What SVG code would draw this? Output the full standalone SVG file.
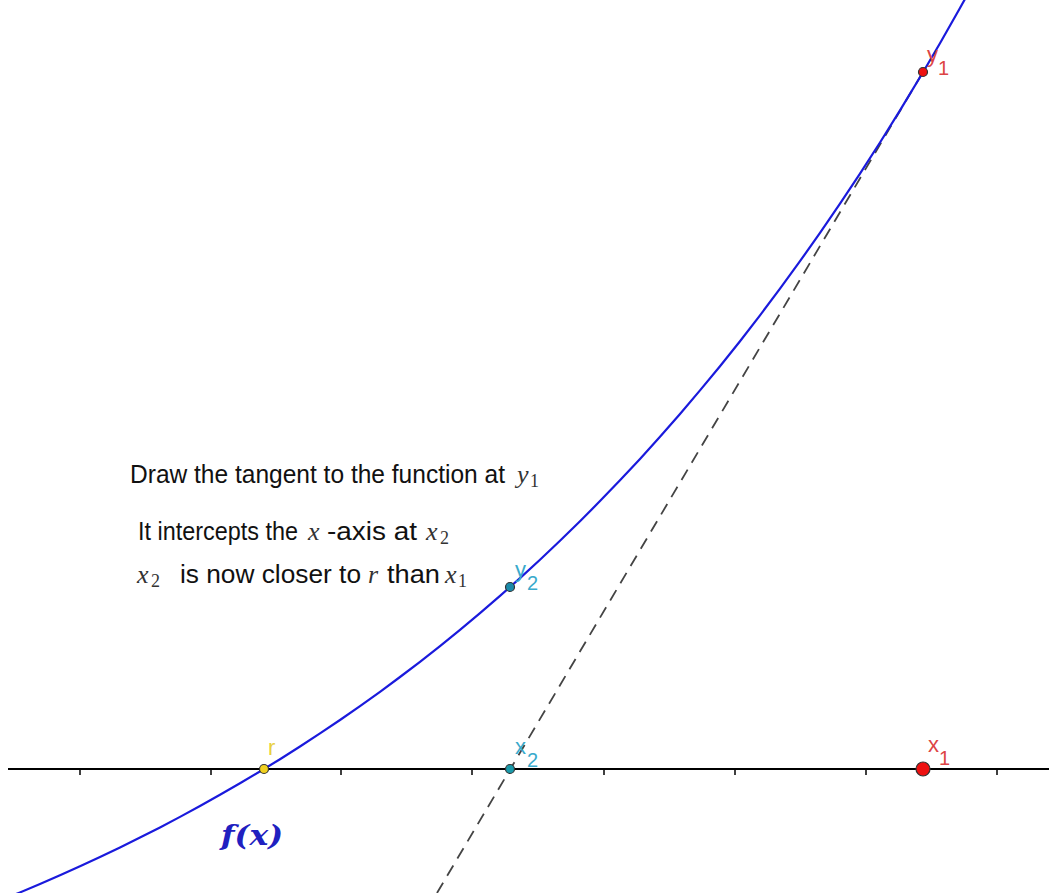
<svg xmlns="http://www.w3.org/2000/svg" width="1049" height="893" viewBox="0 0 1049 893">
<style>
.txt{font-family:"Liberation Sans",Arial,sans-serif;font-size:25px;fill:#111}
.math{font-family:"Liberation Serif","DejaVu Serif",serif;font-style:italic;font-size:26px;fill:#333}
.sub{font-family:"Liberation Serif","DejaVu Serif",serif;font-size:18px;fill:#333}
.lbl{font-family:"Liberation Sans",Arial,sans-serif;font-size:22px}
.lsub{font-family:"Liberation Sans",Arial,sans-serif;font-size:20px}
.tick{stroke:#000;stroke-width:1.5}
</style>
<rect width="1049" height="893" fill="#fff"/>
<g id="axis">
<line x1="8" y1="769" x2="1049" y2="769" stroke="#000" stroke-width="1.8"/>
<g class="tick">
<line x1="80" y1="769" x2="80" y2="775"/>
<line x1="211" y1="769" x2="211" y2="775"/>
<line x1="341" y1="769" x2="341" y2="775"/>
<line x1="472" y1="769" x2="472" y2="775"/>
<line x1="604" y1="769" x2="604" y2="775"/>
<line x1="735" y1="769" x2="735" y2="775"/>
<line x1="866" y1="769" x2="866" y2="775"/>
<line x1="997" y1="769" x2="997" y2="775"/>
</g>
</g>
<g id="connectors">
<line id="tangent" x1="437" y1="893" x2="923" y2="72" stroke="#444" stroke-width="1.8" stroke-dasharray="12 8"/>
<polyline id="curve" fill="none" stroke="#1a1adc" stroke-width="2.2" points="0,900.6 20,892.4 40,884 60,875.3 80,866.3 100,857 120,847.4 140,837.6 160,827.4 180,816.9 200,806 220,794.8 240,783.3 264,769 280,759.2 300,746.5 320,733.4 340,720 360,706.1 380,691.8 400,677 420,661.8 440,646.1 460,629.8 480,613.1 500,595.9 510,587 520,578.1 540,559.7 560,540.8 580,521.3 600,501.1 620,480.3 640,458.9 660,436.8 680,414 700,390.4 720,366.2 740,341.2 760,315.3 780,288.7 800,261.2 820,232.9 840,203.7 860,173.6 880,142.5 900,110.4 923,72.3 940,43.3 960,8 965,-1"/>
</g>
<g id="fx">
<text x="221" y="845" font-family="'DejaVu Serif','Liberation Serif',serif" font-size="28" font-weight="bold" font-style="italic" fill="#2020c0" textLength="62" lengthAdjust="spacingAndGlyphs">f(x)</text>
</g>
<g id="r">
<circle cx="264" cy="769" r="4.5" fill="#f0d020" stroke="#333" stroke-width="1.2"/>
<text x="268" y="755" class="lbl" fill="#e8d040">r</text>
</g>
<g id="x2">
<circle cx="510" cy="769" r="4.5" fill="#1a9aaa" stroke="#333" stroke-width="1.2"/>
<text x="515" y="754" class="lbl" fill="#3aaacc">x</text><text x="527" y="767" class="lsub" fill="#3aaacc">2</text>
</g>
<g id="x1">
<circle cx="923" cy="769" r="7" fill="#ee1111" stroke="#333" stroke-width="1.2"/>
<text x="928" y="752" class="lbl" fill="#dd4444">x</text><text x="939" y="765" class="lsub" fill="#dd4444">1</text>
</g>
<g id="y2">
<circle cx="510" cy="587" r="4.5" fill="#1a8aaa" stroke="#333" stroke-width="1.2"/>
<text x="515" y="577" class="lbl" fill="#3aaacc">y</text><text x="527" y="590" class="lsub" fill="#3aaacc">2</text>
</g>
<g id="y1">
<circle cx="923" cy="72" r="4.5" fill="#ee1111" stroke="#333" stroke-width="1.2"/>
<text x="927" y="62" class="lbl" fill="#dd4444">y</text><text x="938" y="75" class="lsub" fill="#dd4444">1</text>
</g>
<g id="caption">
<text class="txt" x="130" y="483" textLength="375" lengthAdjust="spacingAndGlyphs">Draw the tangent to the function at</text>
<text class="math" x="517" y="483">y</text><text class="sub" x="530" y="487">1</text>
<text class="txt" x="138" y="540" textLength="160" lengthAdjust="spacingAndGlyphs">It intercepts the</text>
<text class="math" x="308" y="540">x</text>
<text class="txt" x="327" y="540" textLength="90" lengthAdjust="spacingAndGlyphs">-axis at</text>
<text class="math" x="426" y="540">x</text><text class="sub" x="440" y="544">2</text>
<text class="math" x="137" y="583">x</text><text class="sub" x="151" y="587">2</text>
<text class="txt" x="180" y="583" textLength="181" lengthAdjust="spacingAndGlyphs">is now closer to</text>
<text class="math" x="368" y="583">r</text>
<text class="txt" x="387" y="583" textLength="53" lengthAdjust="spacingAndGlyphs">than</text>
<text class="math" x="445" y="583">x</text><text class="sub" x="458" y="587">1</text>
</g>
</svg>
